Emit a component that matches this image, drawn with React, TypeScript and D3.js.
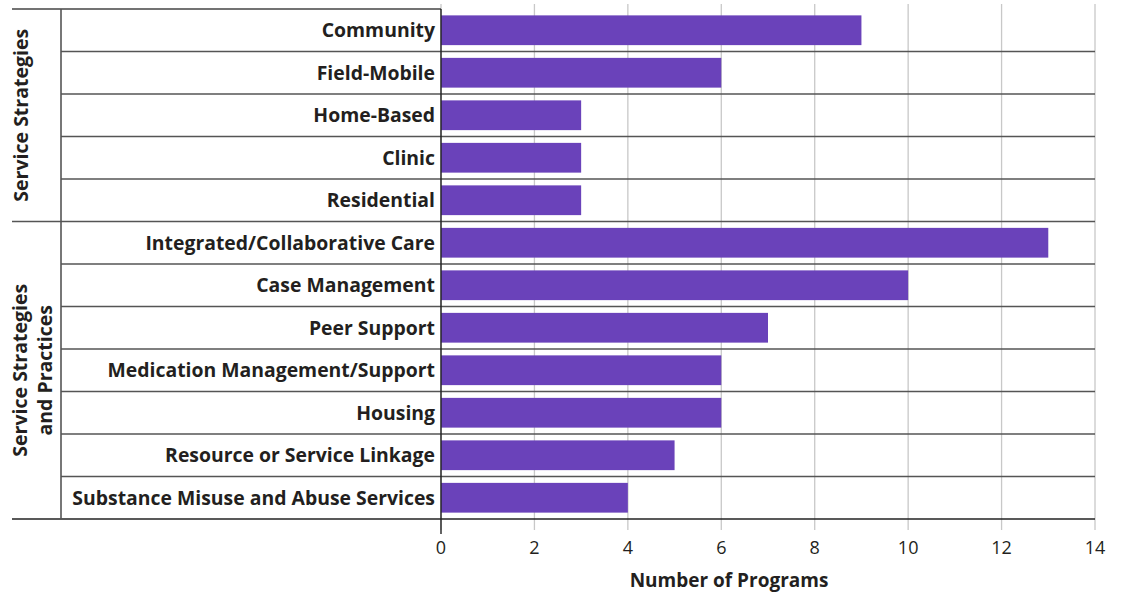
import React from "react";
import * as d3 from "d3";

const categories = [
  "Community",
  "Field-Mobile",
  "Home-Based",
  "Clinic",
  "Residential",
  "Integrated/Collaborative Care",
  "Case Management",
  "Peer Support",
  "Medication Management/Support",
  "Housing",
  "Resource or Service Linkage",
  "Substance Misuse and Abuse Services",
];
const values = [9, 6, 3, 3, 3, 13, 10, 7, 6, 6, 5, 4];
const groups = [
  { lines: ["Service Strategies"], start: 0, end: 5, cx: 21 },
  { lines: ["Service Strategies", "and Practices"], start: 5, end: 12, cx: 32.5 },
];
const xTicks = [0, 2, 4, 6, 8, 10, 12, 14];
const xTitle = "Number of Programs";

const W = 1121;
const H = 593;
const top = 9;
const bottom = 519;
const x0 = 441;
const x1 = 1095;
const outerLeft = 12;
const innerLeft = 61;
const font = "'Open Sans', 'Noto Sans', sans-serif";

export default function App() {
  const x = d3.scaleLinear().domain([0, 14]).range([x0, x1]);
  const y = d3
    .scaleBand<string>()
    .domain(categories)
    .range([top, bottom])
    .paddingInner(0.3)
    .paddingOuter(0.15);
  const rowH = (bottom - top) / categories.length;
  const rowTop = (i: number) => top + i * rowH;
  const barY = (i: number) => rowTop(i) + (rowH - y.bandwidth()) / 2;

  return (
    <svg
      width={W}
      height={H}
      style={{ position: "absolute", left: 0, top: 0, background: "#fff" }}
      fontFamily={font}
    >
      {xTicks.map((t) => (
        <line
          key={"g" + t}
          x1={x(t)}
          x2={x(t)}
          y1={4}
          y2={530}
          stroke="#c8c8c8"
          strokeWidth={1.3}
        />
      ))}
      {categories.map((c, i) => (
        <rect
          key={"b" + c}
          x={x(0)}
          y={barY(i)}
          width={x(values[i]) - x(0)}
          height={y.bandwidth()}
          fill="#6a42ba"
        />
      ))}
      {categories.map((c, i) => {
        if (i === 0) return null;
        const isGroupBoundary = groups.some((g) => g.start === i);
        return (
          <line
            key={"r" + c}
            x1={isGroupBoundary ? outerLeft : innerLeft}
            x2={x1}
            y1={rowTop(i)}
            y2={rowTop(i)}
            stroke="#555"
            strokeWidth={1.6}
          />
        );
      })}
      <line x1={outerLeft} x2={x0} y1={top} y2={top} stroke="#444" strokeWidth={1.6} />
      <line x1={outerLeft} x2={x1} y1={bottom} y2={bottom} stroke="#222" strokeWidth={1.6} />
      <line x1={innerLeft} x2={innerLeft} y1={top} y2={bottom} stroke="#555" strokeWidth={1.6} />
      <line x1={x0} x2={x0} y1={top} y2={534} stroke="#222" strokeWidth={1.4} />
      {categories.map((c, i) => (
        <text
          key={"l" + c}
          x={435}
          y={rowTop(i) + rowH / 2}
          dy="0.35em"
          textAnchor="end"
          fontSize={19.4}
          fontWeight="bold"
          fill="#231f20"
        >
          {c}
        </text>
      ))}
      {groups.map((g, gi) => {
        const cy = (rowTop(g.start) + rowTop(g.end)) / 2;
        const n = g.lines.length;
        const lineH = 24.5;
        return (
          <text
            key={"grp" + gi}
            transform={`translate(${g.cx},${cy}) rotate(-90)`}
            textAnchor="middle"
            fontSize={19.5}
            fontWeight="bold"
            fill="#231f20"
          >
            {g.lines.map((l, li) => (
              <tspan key={li} x={0} y={(li - (n - 1) / 2) * lineH} dy="0.35em">
                {l}
              </tspan>
            ))}
          </text>
        );
      })}
      {xTicks.map((t) => (
        <text
          key={"t" + t}
          x={x(t)}
          y={548}
          dy="0.35em"
          textAnchor="middle"
          fontSize={18}
          fill="#231f20"
        >
          {t}
        </text>
      ))}
      <text
        x={729}
        y={580}
        dy="0.35em"
        textAnchor="middle"
        fontSize={19}
        fontWeight="bold"
        fill="#231f20"
      >
        {xTitle}
      </text>
    </svg>
  );
}
